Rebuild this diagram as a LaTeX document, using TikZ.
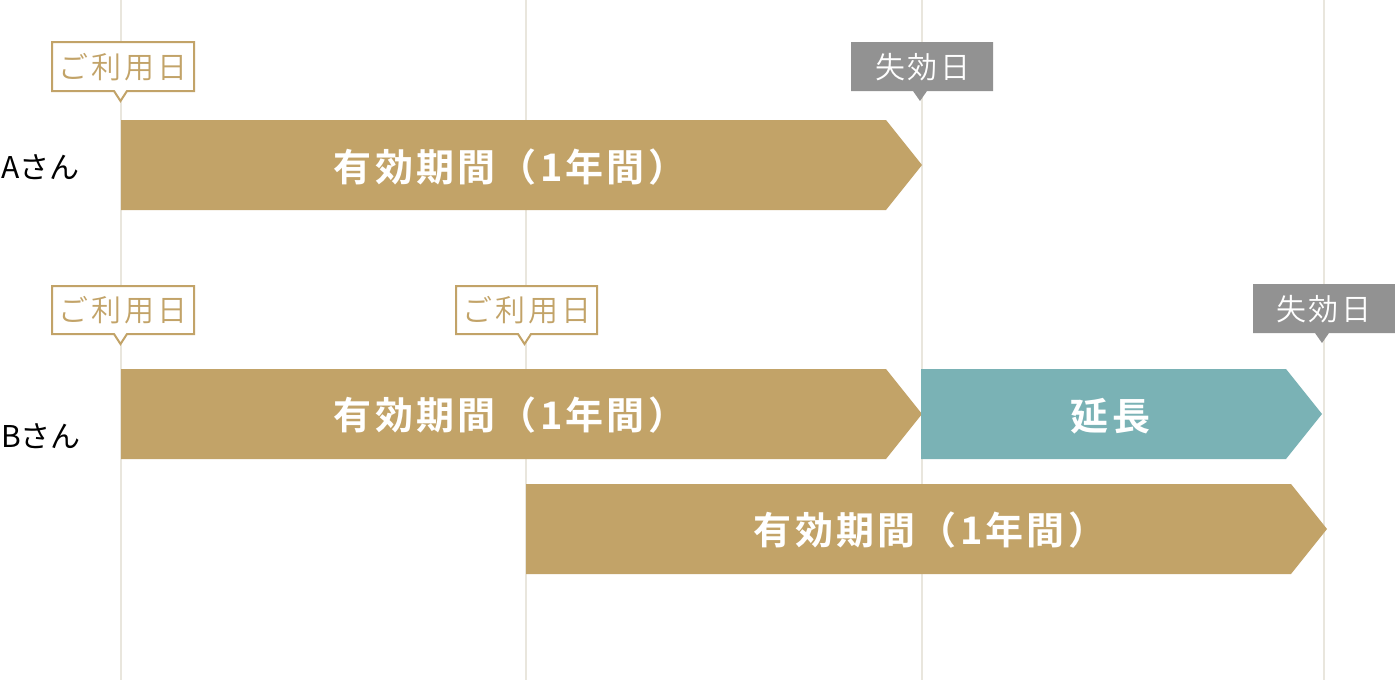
\documentclass[tikz,border=0pt]{standalone}
\usepackage{fontspec}
\setmainfont{Noto Sans CJK JP}
\newfontfamily\barfont[LetterSpace=8.5]{Noto Sans CJK JP Bold}
\newfontfamily\tagfont[LetterSpace=9]{Noto Sans CJK JP DemiLight}
\definecolor{gold}{HTML}{C2A368}
\definecolor{teal2}{HTML}{7AB2B5}
\definecolor{tagrey}{HTML}{929292}
\definecolor{gridc}{HTML}{E9E6DD}
\tikzset{
  gridline/.style={draw=gridc,line width=2pt},
  goldbar/.style={fill=gold,draw=none},
  tealbar/.style={fill=teal2,draw=none},
  bartext/.style={text=white,font=\barfont\fontsize{38}{42}\selectfont,inner sep=0pt,anchor=center},
  usetag/.style={draw=gold,line width=2pt,fill=white,line join=miter},
  endtag/.style={fill=tagrey,draw=none},
  usetext/.style={text=gold,font=\tagfont\fontsize{30}{34}\selectfont,inner sep=0pt,anchor=center},
  endtext/.style={text=white,font=\tagfont\fontsize{30}{34}\selectfont,inner sep=0pt,anchor=center},
  person/.style={text=black,font=\fontsize{30}{34}\selectfont,inner sep=0pt,anchor=west}
}
\begin{document}
\begin{tikzpicture}[x=1pt,y=-1pt]
\useasboundingbox (0,0) rectangle (1395,680);
\fill[white] (0,0) rectangle (1395,680);
\draw[gridline] (120.5,0) -- (120.5,680);
\draw[gridline] (526,0) -- (526,680);
\draw[gridline] (922,0) -- (922,680);
\draw[gridline] (1324,0) -- (1324,680);
% bars
\fill[goldbar] (121,120) -- (886,120) -- (922,165) -- (886,210) -- (121,210) -- cycle;
\fill[goldbar] (121,369) -- (886,369) -- (922,414) -- (886,459) -- (121,459) -- cycle;
\fill[tealbar] (921,369) -- (1286,369) -- (1322,414) -- (1286,459) -- (921,459) -- cycle;
\fill[goldbar] (526,484) -- (1291,484) -- (1327,529) -- (1291,574) -- (526,574) -- cycle;
\node[bartext] (a1) at (510,167) {有効期間（1年間）};
\node[bartext] (b1) at (510,415) {有効期間（1年間）};
\node[bartext] (b2) at (1110.5,416) {延長};
\node[bartext] (b3) at (930,530) {有効期間（1年間）};
% use tags
\draw[usetag] (52,42) -- (194,42) -- (194,91) -- (127,91) -- (120.5,101) -- (114,91) -- (52,91) -- cycle;
\draw[usetag] (52,286) -- (194,286) -- (194,334) -- (127,334) -- (120.5,344) -- (114,334) -- (52,334) -- cycle;
\draw[usetag] (456,286) -- (597,286) -- (597,334) -- (531,334) -- (524.5,344) -- (518,334) -- (456,334) -- cycle;
\node[usetext] (t1) at (123,67) {ご利用日};
\node[usetext] (t2) at (123,310) {ご利用日};
\node[usetext] (t3) at (527,310) {ご利用日};
% end tags
\fill[endtag] (851,42) -- (993,42) -- (993,91) -- (927,91) -- (920,101) -- (913,91) -- (851,91) -- cycle;
\fill[endtag] (1253,284) -- (1395,284) -- (1395,333) -- (1329,333) -- (1322,343) -- (1315,333) -- (1253,333) -- cycle;
\node[endtext] (e1) at (923,67) {失効日};
\node[endtext] (e2) at (1324,309) {失効日};
% people
\node[person] (pa) at (1,167) {Aさん};
\node[person] (pb) at (1,436) {Bさん};
\end{tikzpicture}
\end{document}
